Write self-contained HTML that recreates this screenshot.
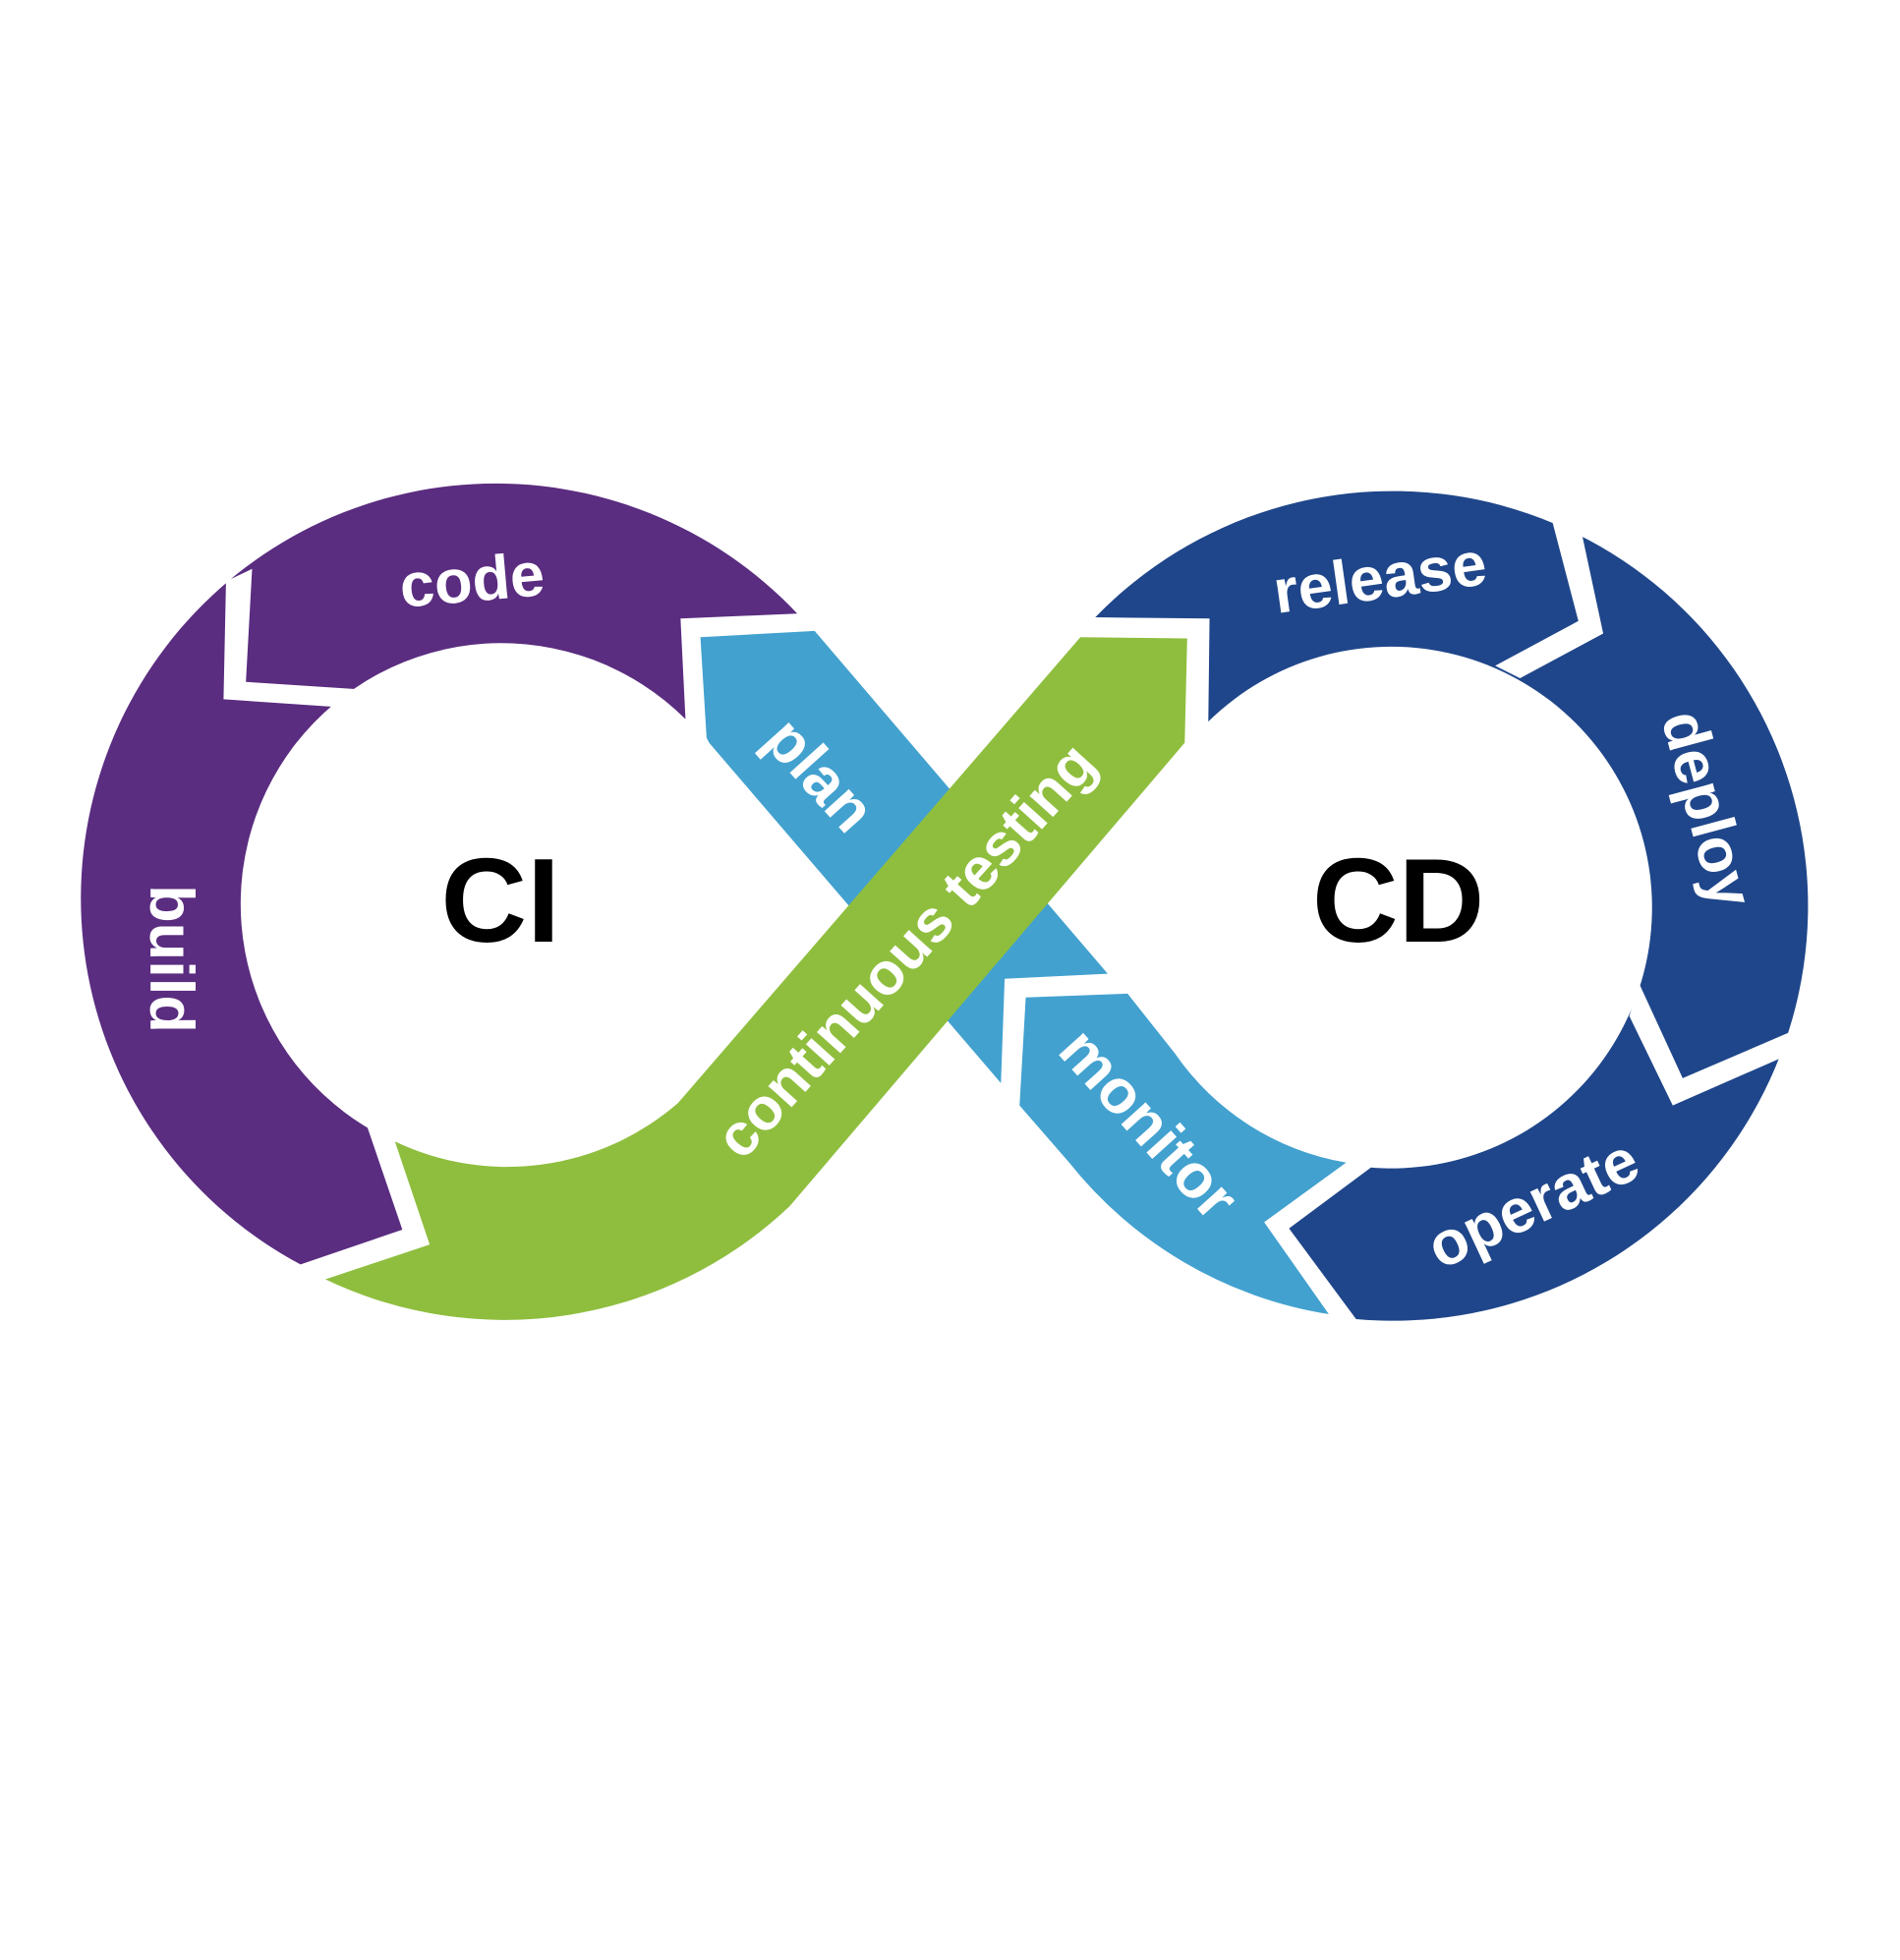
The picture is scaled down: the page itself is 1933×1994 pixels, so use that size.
<!DOCTYPE html>
<html><head><meta charset="utf-8"><style>
html,body{margin:0;padding:0;background:#fff;}
svg{display:block;}
text{font-family:"Liberation Sans",sans-serif;font-weight:bold;}
</style></head><body>
<svg width="1933" height="1994" viewBox="0 0 1530 1578" preserveAspectRatio="none" xmlns="http://www.w3.org/2000/svg">
<rect width="1530" height="1578" fill="#fff"/>
<g transform="translate(6 6)">
<!-- purple -->
<path d="M636 488 A334 334 0 1 0 236 1012 L318 984 L290 902 A210 210 0 1 1 546 573 L542 492 Z" fill="#5a2d80"/>
<polygon points="176,462 174,557 262,563 283,549 192,543 197,452" fill="#fff"/>
<!-- dark blue -->
<path d="M876 491 A334 334 0 1 1 1086 1056 L1032 983 L1098 934 A210 210 0 1 0 967 575 L968 492 Z" fill="#1f468a"/>
<polygon points="1243,410 1265,494 1198,530 1218,540 1285,504 1267,420" fill="#fff"/>
<polygon points="1440,823 1349,862 1314,786 1306,812 1341,884 1430,845" fill="#fff"/>
<!-- plan blue -->
<polygon points="558,507 650,502 886,778 803,782 800,866 565,592 563,588" fill="#42a1cf"/>
<!-- monitor blue -->
<path d="M820 797 L902 794 L940 842 A210 210 0 0 0 1078 930 L1012 978 L1064 1052 A334 334 0 0 1 855 930 L815 884 Z" fill="#42a1cf"/>
<!-- green -->
<path d="M312 913 A210 210 0 0 0 540 882 L864 507 L950 508 L948 592 L630 965 A334 334 0 0 1 256 1024 L340 996 Z" fill="#8fbe3e"/>
<!-- labels -->
<g fill="#fff" font-size="50">
<text x="374" y="478" text-anchor="middle" transform="rotate(-5 374 460)">code</text>
<text x="1105" y="476" text-anchor="middle" transform="rotate(-8 1105 458)">release</text>
<text x="1370" y="663" text-anchor="middle" transform="rotate(75 1370 645)">deploy</text>
<text x="1228" y="980" text-anchor="middle" transform="rotate(-25 1228 962)">operate</text>
<text x="920" y="916" text-anchor="middle" transform="rotate(48 920 898)">monitor</text>
<text x="655" y="635" text-anchor="middle" transform="rotate(48 655 617)">plan</text>
<text x="133" y="784" text-anchor="middle" transform="rotate(90 133 766)">build</text>
<text x="722" y="776" text-anchor="middle" font-size="48" transform="rotate(-48 722 758)">continuous testing</text>
</g>
<g fill="#000" font-size="96">
<text x="397" y="752" text-anchor="middle">CI</text>
<text x="1120" y="752" text-anchor="middle">CD</text>
</g>
</g>
</svg>
</body></html>
